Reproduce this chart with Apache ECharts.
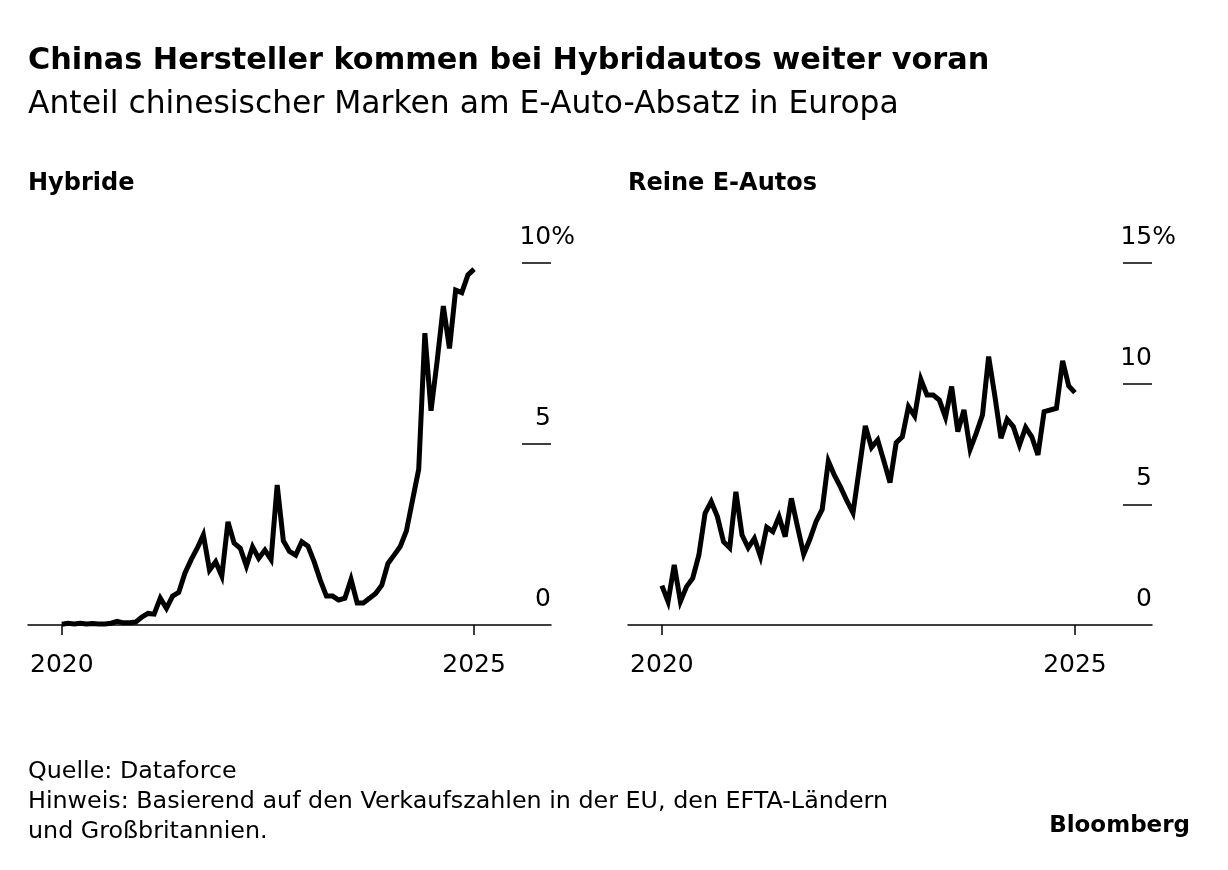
<!DOCTYPE html>
<html><head><meta charset="utf-8">
<script src="https://cdn.jsdelivr.net/npm/echarts@6/dist/echarts.min.js"></script>
<style>html,body{margin:0;padding:0;background:#fff}#c{width:1228px;height:870px}</style>
</head><body><div id="c"></div>
<script>
// Monthly share of Chinese brands (%), Jan 2020 .. Aug 2025
const hybridShare = [0.02,0.05,0.03,0.05,0.03,0.04,0.03,0.03,0.05,0.10,0.06,0.06,
  0.08,0.22,0.32,0.30,0.74,0.46,0.80,0.90,1.43,1.80,2.12,2.49,
  1.52,1.75,1.35,2.85,2.26,2.12,1.63,2.16,1.84,2.07,1.81,3.87,
  2.33,2.03,1.93,2.30,2.18,1.75,1.24,0.80,0.80,0.69,0.74,1.26,
  0.61,0.61,0.74,0.87,1.10,1.70,1.93,2.17,2.60,3.45,4.30,8.06,
  5.92,7.30,8.81,7.64,9.25,9.18,9.67,9.83];
const bevShare = [1.63,0.97,2.49,0.97,1.59,1.94,2.90,4.63,5.11,4.49,3.45,3.20,
  5.52,3.73,3.20,3.59,2.83,4.05,3.87,4.49,3.66,5.25,4.07,2.93,
  3.55,4.28,4.79,6.79,6.20,5.70,5.15,4.65,6.45,8.25,7.36,7.67,
  6.80,5.90,7.55,7.80,9.05,8.66,10.18,9.53,9.53,9.32,8.61,9.88,
  8.01,8.91,7.28,7.95,8.70,11.12,9.50,7.74,8.52,8.22,7.46,8.19,
  7.80,7.05,8.84,8.91,8.98,10.95,9.90,9.63];
const xTickIndex = [0, 67];
const xTickLabels = ['2020', '2025'];
const hybridYTicks = [0, 5, 10];
const bevYTicks = [0, 5, 10, 15];
const panelTitles = ['Hybride', 'Reine E-Autos'];
const titleText = 'Chinas Hersteller kommen bei Hybridautos weiter voran';
const subtitleText = 'Anteil chinesischer Marken am E-Auto-Absatz in Europa';
const footerText = 'Quelle: Dataforce\nHinweis: Basierend auf den Verkaufszahlen in der EU, den EFTA-Ländern\nund Großbritannien.';

const FONT = '"DejaVu Sans", sans-serif';
const toPairs = arr => arr.map((v, i) => [i, v]);

function xAxis(gi) {
  return {
    type: 'value', gridIndex: gi, min: -5.5, max: 79.5,
    axisLine: {show: true, onZero: false, lineStyle: {color: '#000', width: 1.5}},
    axisTick: {show: true, customValues: xTickIndex, length: 10, lineStyle: {color: '#000', width: 1.5}},
    axisLabel: {show: true, customValues: xTickIndex, margin: 28,
      formatter: v => xTickLabels[xTickIndex.indexOf(Math.round(v))] || '',
      fontFamily: FONT, fontSize: 25, color: '#000', lineHeight: 25},
    splitLine: {show: false}
  };
}
function yAxis(gi, ticks) {
  const max = ticks[ticks.length - 1];
  const base = {fontFamily: FONT, fontSize: 25, color: '#000', lineHeight: 25};
  return {
    type: 'value', gridIndex: gi, position: 'right', min: ticks[0], max: max, interval: ticks[1] - ticks[0],
    axisLine: {show: false, onZero: false},
    axisTick: {show: true, inside: true, length: 29, customValues: ticks.slice(1), lineStyle: {color: '#000', width: 1.5}},
    axisLabel: {show: true, customValues: ticks, margin: 24, align: 'right', verticalAlign: 'bottom', padding: [0, 0, 13, 0],
      formatter: v => v === max ? '{a|' + v + '}{a|%}' : '{c|' + v + '}',
      rich: {a: base, c: Object.assign({}, base, {padding: [0, 24, 0, 0]})}},
    splitLine: {show: false}
  };
}
const lineStyle = {color: '#000', width: 5, join: 'miter', miterLimit: 4};

const chart = echarts.init(document.getElementById('c'));
chart.setOption({
  backgroundColor: '#fff',
  animation: false,
  grid: [
    {left: 28, top: 263, width: 523, height: 362},
    {left: 628, top: 263, width: 524, height: 362}
  ],
  xAxis: [xAxis(0), xAxis(1)],
  yAxis: [yAxis(0, hybridYTicks), yAxis(1, bevYTicks)],
  series: [
    {type: 'line', xAxisIndex: 0, yAxisIndex: 0, data: toPairs(hybridShare), showSymbol: false, lineStyle: lineStyle, clip: false},
    {type: 'line', xAxisIndex: 1, yAxisIndex: 1, data: toPairs(bevShare), showSymbol: false, lineStyle: lineStyle, clip: false}
  ],
  graphic: [
    {type: 'text', left: 28, top: 46.5, style: {text: titleText, font: 'bold 30.3px ' + FONT, fill: '#000'}},
    {type: 'text', left: 28, top: 89, style: {text: subtitleText, font: '31.4px ' + FONT, fill: '#000'}},
    {type: 'text', left: 28, top: 171.5, style: {text: panelTitles[0], font: 'bold 24px ' + FONT, fill: '#000'}},
    {type: 'text', left: 628, top: 171.5, style: {text: panelTitles[1], font: 'bold 24px ' + FONT, fill: '#000'}},
    {type: 'text', left: 28, top: 757, style: {text: footerText, font: '23.8px ' + FONT, lineHeight: 30, fill: '#000'}},
    {type: 'text', right: 38, top: 815, style: {text: 'Bloomberg', font: 'bold 23px ' + FONT, fill: '#000'}}
  ]
});
</script></body></html>
